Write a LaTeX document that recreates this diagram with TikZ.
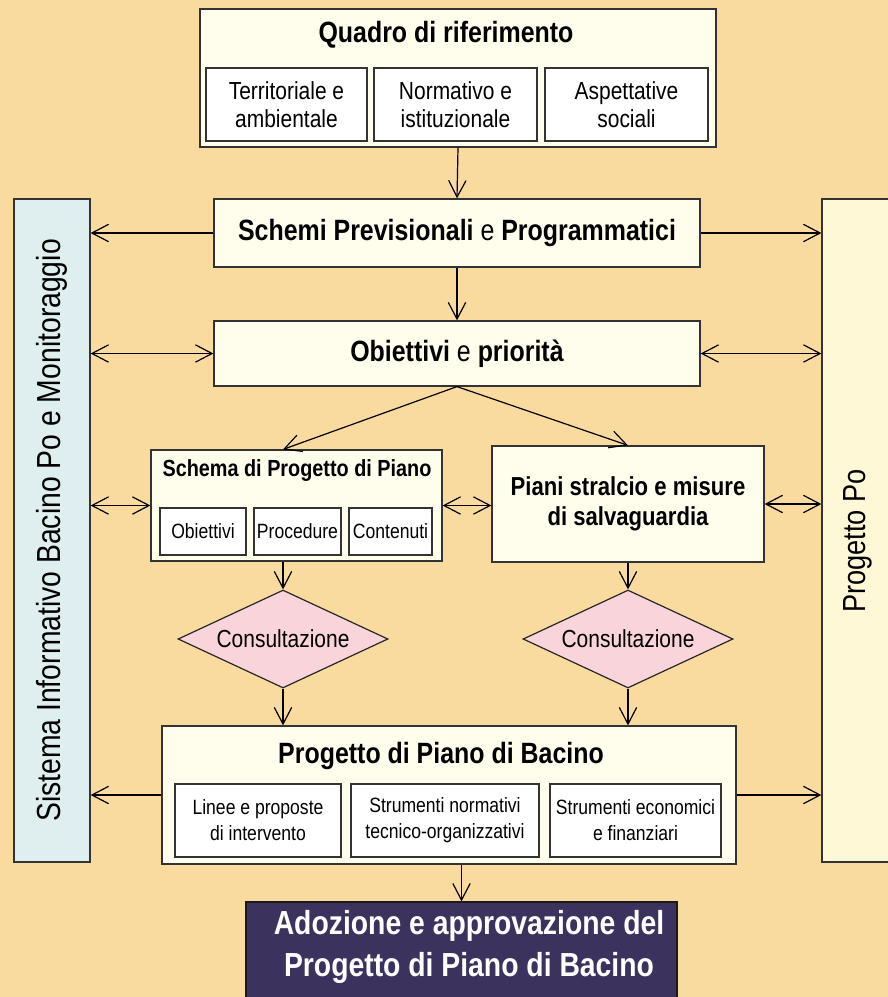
\documentclass[tikz,border=0pt]{standalone}
\usepackage{fontspec}
\setmainfont{Liberation Sans}[FakeStretch=0.85]
\usetikzlibrary{arrows.meta,shapes.geometric,fit}

\definecolor{sfondo}{HTML}{F9DB9F}
\definecolor{avorio}{HTML}{FFFDEC}
\definecolor{azzurro}{HTML}{DFEEEE}
\definecolor{paglia}{HTML}{FFF8D6}
\definecolor{rosa}{HTML}{F9D4DA}
\definecolor{viola}{HTML}{3C325E}

\newcommand{\titolo}{\fontsize{22}{26}\selectfont}
\newcommand{\voce}{\fontsize{18.5}{21}\selectfont}
\newcommand{\vocina}{\fontsize{15.5}{19.5}\selectfont}

\begin{document}
\begin{tikzpicture}[x=0.75pt, y=-0.75pt, line width=0.9pt,
		>={Straight Barb[length=12.5pt,width=13pt]},
		box/.style={draw=black!80, fill=avorio, inner sep=0pt},
		sub/.style={draw=black!80, fill=white, inner sep=0pt},
		txt/.style={align=center, inner sep=0pt},
		cons/.style={diamond, draw=black!85, fill=rosa, inner sep=0pt, aspect=2.1,
			minimum width=157.5pt, minimum height=73.5pt, font=\voce}]
			\clip (0,0) rectangle (888,997);
			\fill [sfondo] (0,0) rectangle (888,997);

			% quadro di riferimento
			\node [box, fit={(200,9) (716,147)}] (quadro) {};
			\node [txt, font=\titolo\bfseries] (quadrot) at (446,35) {Quadro di riferimento};
			\node [sub, fit={(206,68) (367,141)}] (terr) {};
			\node [sub, fit={(374,68) (537,141)}] (norm) {};
			\node [sub, fit={(545,68) (708,141)}] (asp) {};
			\node [txt, font=\voce] at (terr) {Territoriale e\\ambientale};
			\node [txt, font=\voce] at (norm) {Normativo e\\istituzionale};
			\node [txt, font=\voce] at (asp) {Aspettative\\sociali};

			% side boxes
			\node [box, fill=azzurro, fit={(14,199) (90,862)}] (sistema) {};
			\node [txt, rotate=90, font=\fontsize{25}{28}\selectfont] at (sistema) {Sistema Informativo Bacino Po e Monitoraggio};
			\node [box, fill=paglia, fit={(822,199) (900,862)}] (progpo) {};
			\node [txt, rotate=90, font=\fontsize{24}{28}\selectfont] at (858,541) {Progetto Po};

			% schemi, obiettivi
			\node [box, fit={(214,199) (700,267)}] (schemi) {};
			\node [txt, font=\titolo] at (schemi) {\textbf{Schemi Previsionali} e \textbf{Programmatici}};
			\node [box, fit={(214,321) (700,386)}] (obiettivi) {};
			\node [txt, font=\titolo] at (obiettivi) {\textbf{Obiettivi} e \textbf{priorità}};

			% schema di progetto
			\node [box, fit={(151,450) (442,561)}] (schema) {};
			\node [txt, font=\fontsize{17.5}{20}\selectfont\bfseries] (schemat) at (297,471) {Schema di Progetto di Piano};
			\node [sub, fit={(160,508) (246,555)}] (obj) {};
			\node [sub, fit={(254,508) (341,555)}] (proc) {};
			\node [sub, fit={(349,508) (432,555)}] (cont) {};
			\node [txt, font=\vocina] at (obj) {Obiettivi};
			\node [txt, font=\vocina] at (proc) {Procedure};
			\node [txt, font=\vocina] at (cont) {Contenuti};

			% piani stralcio
			\node [box, fit={(492,446) (764,562)}] (piani) {};
			\node [txt, font=\fontsize{19.5}{22.5}\selectfont\bfseries] at (piani) {Piani stralcio e misure\\di salvaguardia};

			% consultazione
			\node [cons] (cons1) at (283,639) {Consultazione};
			\node [cons] (cons2) at (628,639) {Consultazione};

			% progetto di piano
			\node [box, fit={(162,726) (736,864)}] (progetto) {};
			\node [txt, font=\titolo\bfseries] (progettot) at (441,756) {Progetto di Piano di Bacino};
			\node [sub, fit={(175,784) (341,857)}] (linee) {};
			\node [sub, fit={(351,784) (539,857)}] (strnorm) {};
			\node [sub, fit={(550,784) (721,857)}] (strecon) {};
			\node [txt, font=\vocina] at (linee) {Linee e proposte\\di intervento};
			\node [txt, font=\vocina] at (strnorm) {Strumenti normativi\\tecnico-organizzativi};
			\node [txt, font=\vocina] at (strecon) {Strumenti economici\\e finanziari};

			% adozione
			\node [box, draw=black!90, fill=viola, fit={(246,902) (677,1004)}] (adozione) {};
			\node [txt, text=white, font=\fontsize{25}{31}\selectfont\bfseries] at (469,947) {Adozione e approvazione del\\Progetto di Piano di Bacino};

			% arrows down
			\draw [->] (quadro.south) -- (schemi.north);
			\draw [->] (schemi.south) -- (obiettivi.north);
			\draw [->] (obiettivi.south) -- (schema.north -| cons1.north);
			\draw [->] (obiettivi.south) -- (piani.north);
			\draw [->] (schema.south -| cons1.north) -- (cons1.north);
			\draw [->] (piani.south) -- (cons2.north);
			\draw [->] (cons1.south) -- (progetto.north -| cons1.south);
			\draw [->] (cons2.south) -- (progetto.north -| cons2.south);
			\draw [->] (progetto.south -| adozione.north) -- (adozione.north);

			% arrows to the sides
			\draw [->] (schemi.west) -- (sistema.east |- schemi.west);
			\draw [->] (schemi.east) -- (progpo.west |- schemi.east);
			\draw [<->] (sistema.east |- obiettivi.west) -- (obiettivi.west);
			\draw [<->] (obiettivi.east) -- (progpo.west |- obiettivi.east);
			\draw [<->] (sistema.east |- schema.west) -- (schema.west);
			\draw [<->] (schema.east) -- (piani.west |- schema.east);
			\draw [<->] (piani.east) -- (progpo.west |- piani.east);
			\draw [->] (progetto.west) -- (sistema.east |- progetto.west);
			\draw [->] (progetto.east) -- (progpo.west |- progetto.east);

		\end{tikzpicture}
\end{document}
